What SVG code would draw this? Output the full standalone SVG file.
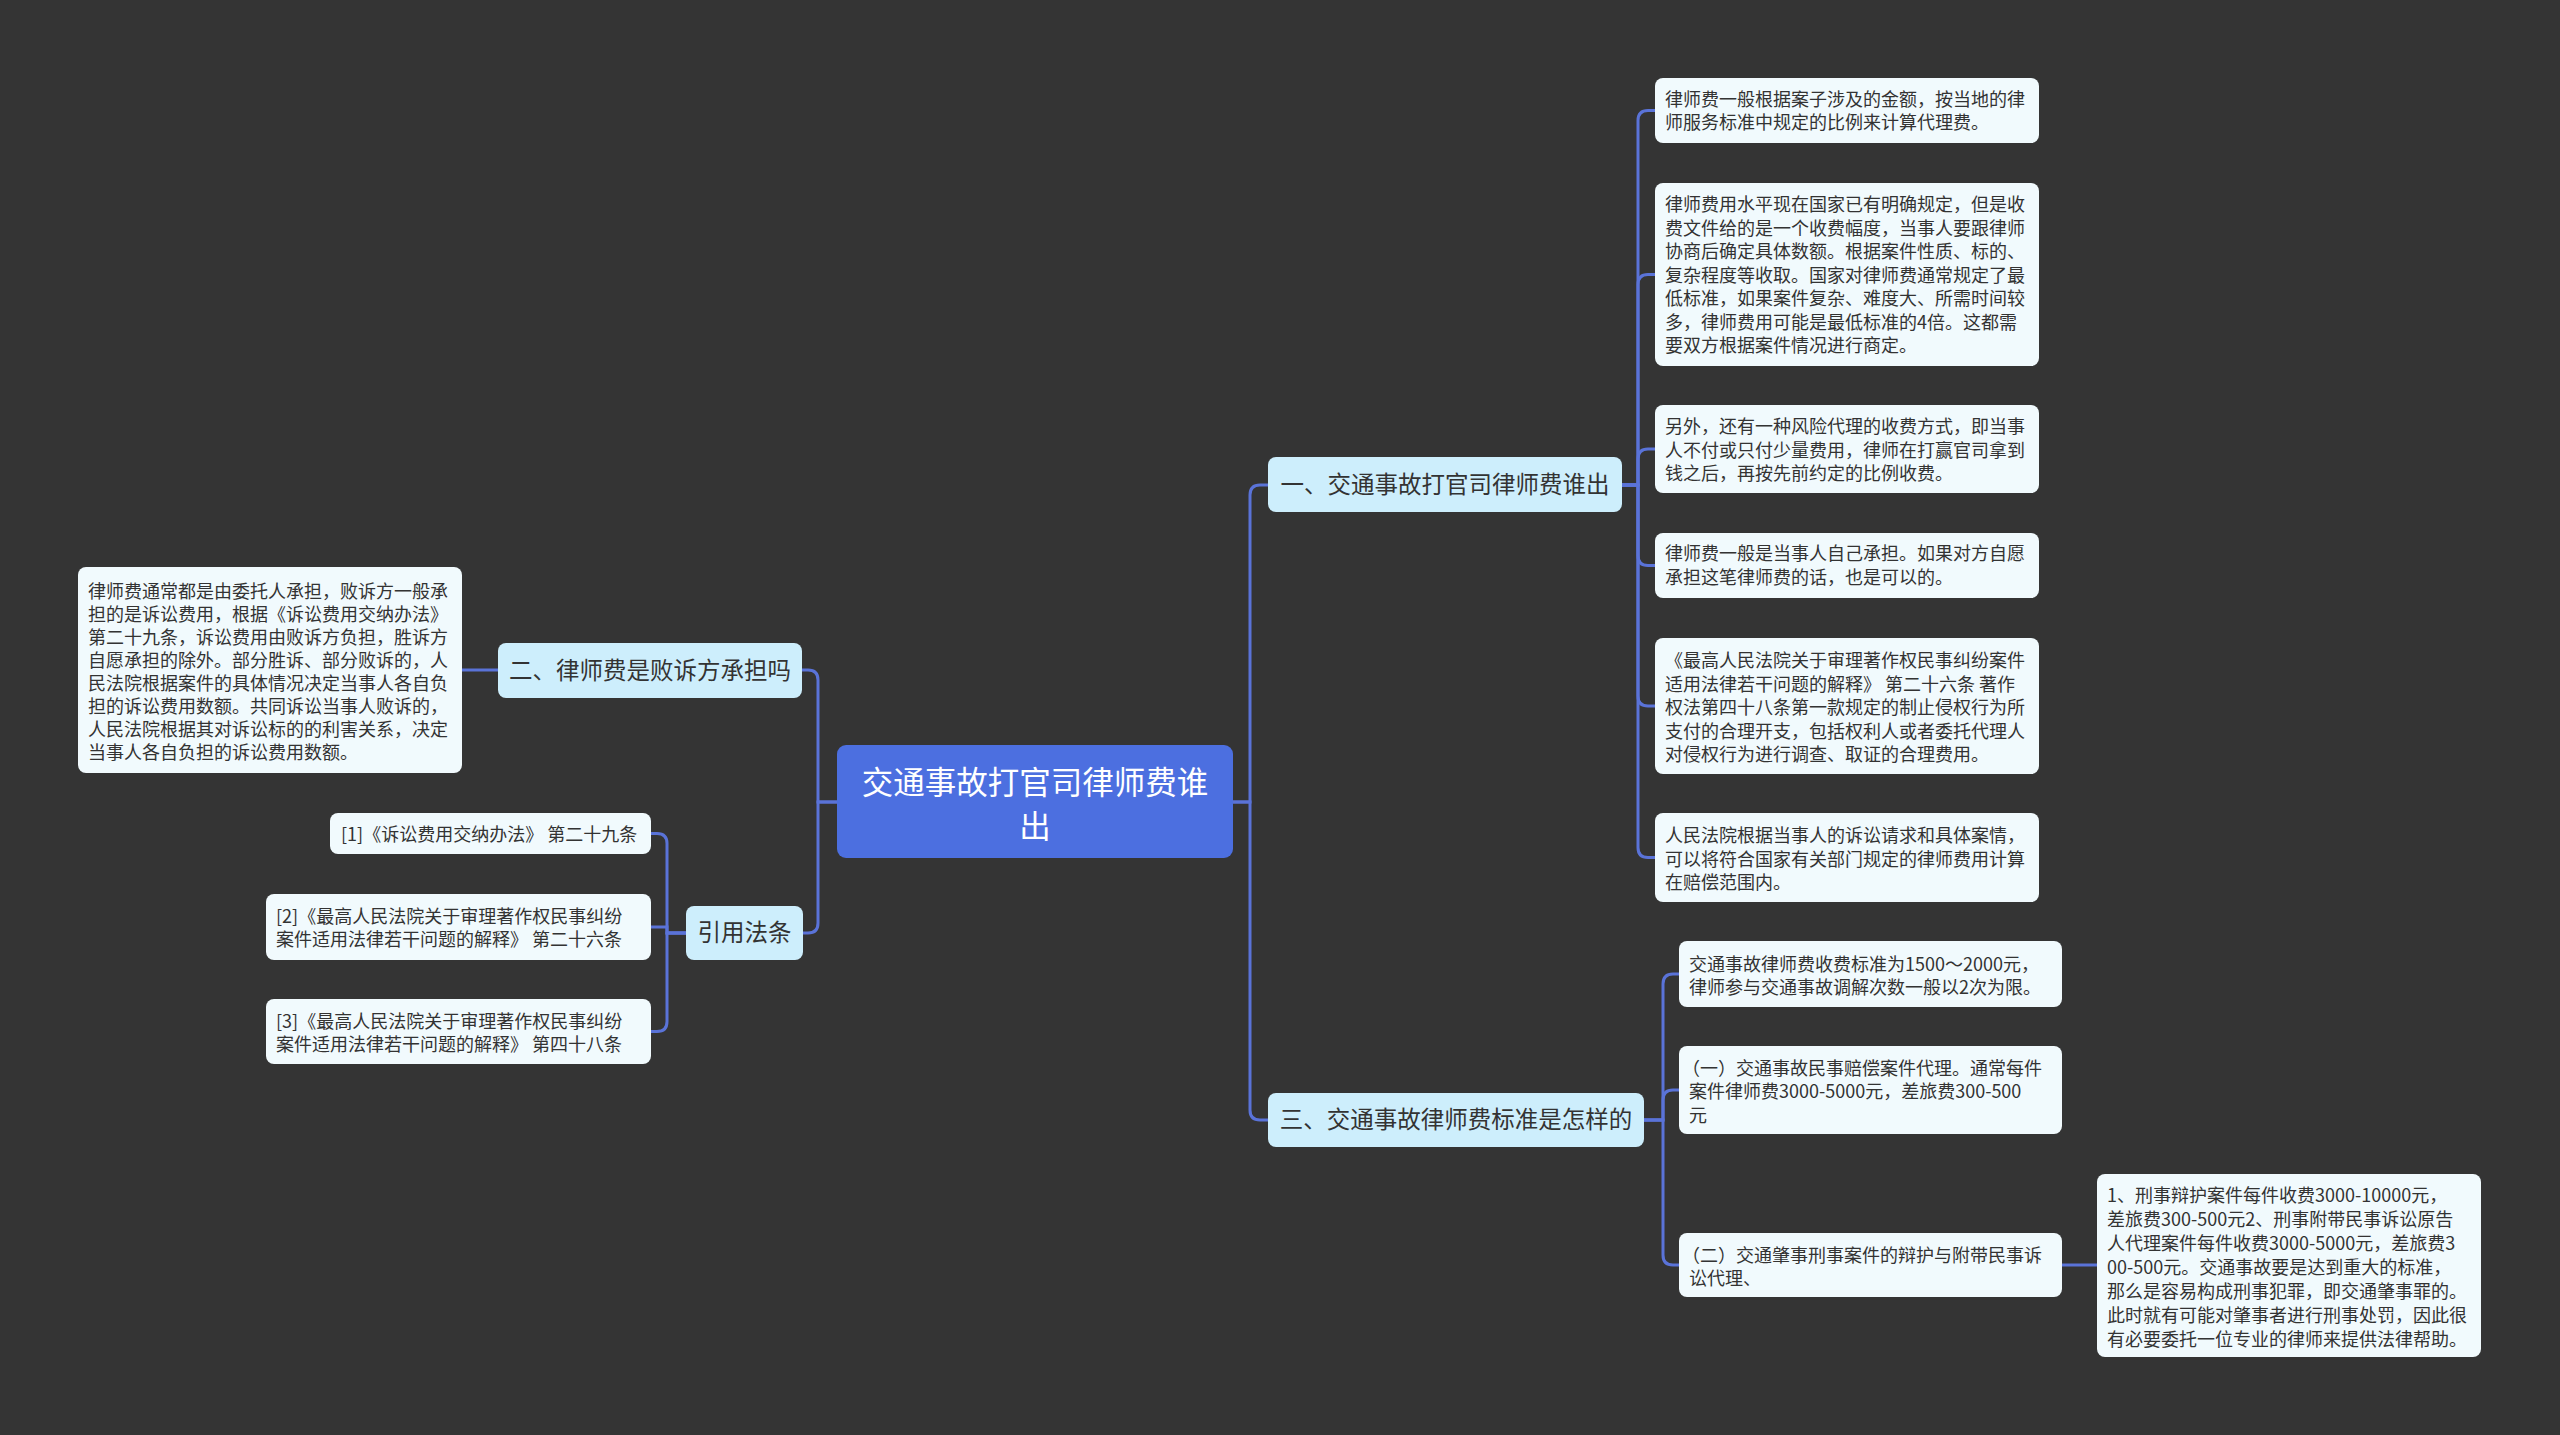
<svg xmlns="http://www.w3.org/2000/svg" width="2560" height="1435" viewBox="0 0 2560 1435">
<style>
text{font-family:"Noto Sans CJK SC","Noto Sans",sans-serif;dominant-baseline:central;fill:#333333;transform:translate(0px,-2px)}
.leaf rect{fill:#F1FAFD;stroke:none}
.leaf text{font-size:18px}
.sub rect{fill:#CDEEFC}
.sub text{font-size:23.5px;text-anchor:middle}
.root rect{fill:#4C6FE0}
.root text{font-size:31.5px;fill:#FFFFFF;text-anchor:middle;transform:translate(0px,-3px)}
.links path{fill:none;stroke:#5A73D8;stroke-width:3}
</style>
<rect x="0" y="0" width="2560" height="1435" fill="#343434"/>
<g class="links">
<path d="M1233,802 H1250 V495 Q1250,485 1260,485 H1268"/>
<path d="M1233,802 H1250 V1110 Q1250,1120 1260,1120 H1268"/>
<path d="M837,802 H818 V680 Q818,670 808,670 H802"/>
<path d="M837,802 H818 V923 Q818,933 808,933 H803"/>
<path d="M1622,485 H1638 V120.5 Q1638,110.5 1648,110.5 H1655"/>
<path d="M1622,485 H1638 V284.5 Q1638,274.5 1648,274.5 H1655"/>
<path d="M1622,485 H1638 V459 Q1638,449 1648,449 H1655"/>
<path d="M1622,485 H1638 V555.5 Q1638,565.5 1648,565.5 H1655"/>
<path d="M1622,485 H1638 V696 Q1638,706 1648,706 H1655"/>
<path d="M1622,485 H1638 V847.5 Q1638,857.5 1648,857.5 H1655"/>
<path d="M1644,1120 H1663 V984 Q1663,974 1673,974 H1679"/>
<path d="M1644,1120 H1663 V1100 Q1663,1090 1673,1090 H1679"/>
<path d="M1644,1120 H1663 V1255 Q1663,1265 1673,1265 H1679"/>
<path d="M2062,1265 H2097"/>
<path d="M498,670 H462"/>
<path d="M686,933 H667 V843.5 Q667,833.5 657,833.5 H651"/>
<path d="M686,933 H667 V927 H651"/>
<path d="M686,933 H667 V1021.5 Q667,1031.5 657,1031.5 H651"/>
</g>
<g id="root" class="root">
<rect x="837" y="745" width="396" height="113" rx="9"/>
<text x="1035" y="783">交通事故打官司律师费谁</text>
<text x="1035" y="827">出</text>
</g>
<g id="b1" class="sub">
<rect x="1268" y="457" width="354" height="55" rx="8"/>
<text x="1445" y="485">一、交通事故打官司律师费谁出</text>
</g>
<g id="b2" class="sub">
<rect x="498" y="643" width="304" height="55" rx="8"/>
<text x="650" y="671">二、律师费是败诉方承担吗</text>
</g>
<g id="b3" class="sub">
<rect x="1268" y="1093" width="376" height="54" rx="8"/>
<text x="1456" y="1120">三、交通事故律师费标准是怎样的</text>
</g>
<g id="b4" class="sub">
<rect x="686" y="906" width="117" height="54" rx="8"/>
<text x="744.5" y="933">引用法条</text>
</g>
<g id="a1" class="leaf">
<rect x="1655" y="78" width="384" height="65" rx="8"/>
<text x="1665" y="100">律师费一般根据案子涉及的金额，按当地的律</text>
<text x="1665" y="123">师服务标准中规定的比例来计算代理费。</text>
</g>
<g id="a2" class="leaf">
<rect x="1655" y="183" width="384" height="183" rx="8"/>
<text x="1665" y="205">律师费用水平现在国家已有明确规定，但是收</text>
<text x="1665" y="228.5">费文件给的是一个收费幅度，当事人要跟律师</text>
<text x="1665" y="252">协商后确定具体数额。根据案件性质、标的、</text>
<text x="1665" y="275.5">复杂程度等收取。国家对律师费通常规定了最</text>
<text x="1665" y="299">低标准，如果案件复杂、难度大、所需时间较</text>
<text x="1665" y="322.5">多，律师费用可能是最低标准的4倍。这都需</text>
<text x="1665" y="346">要双方根据案件情况进行商定。</text>
</g>
<g id="a3" class="leaf">
<rect x="1655" y="405" width="384" height="88" rx="8"/>
<text x="1665" y="427">另外，还有一种风险代理的收费方式，即当事</text>
<text x="1665" y="450.5">人不付或只付少量费用，律师在打赢官司拿到</text>
<text x="1665" y="474">钱之后，再按先前约定的比例收费。</text>
</g>
<g id="a4" class="leaf">
<rect x="1655" y="533" width="384" height="65" rx="8"/>
<text x="1665" y="554">律师费一般是当事人自己承担。如果对方自愿</text>
<text x="1665" y="577.5">承担这笔律师费的话，也是可以的。</text>
</g>
<g id="a5" class="leaf">
<rect x="1655" y="638" width="384" height="136" rx="8"/>
<text x="1665" y="661">《最高人民法院关于审理著作权民事纠纷案件</text>
<text x="1665" y="684.5">适用法律若干问题的解释》 第二十六条 著作</text>
<text x="1665" y="708">权法第四十八条第一款规定的制止侵权行为所</text>
<text x="1665" y="731.5">支付的合理开支，包括权利人或者委托代理人</text>
<text x="1665" y="755">对侵权行为进行调查、取证的合理费用。</text>
</g>
<g id="a6" class="leaf">
<rect x="1655" y="813" width="384" height="89" rx="8"/>
<text x="1665" y="836">人民法院根据当事人的诉讼请求和具体案情，</text>
<text x="1665" y="859.5">可以将符合国家有关部门规定的律师费用计算</text>
<text x="1665" y="883">在赔偿范围内。</text>
</g>
<g id="c1" class="leaf">
<rect x="1679" y="941" width="383" height="66" rx="8"/>
<text x="1689" y="964.5">交通事故律师费收费标准为1500～2000元，</text>
<text x="1689" y="988">律师参与交通事故调解次数一般以2次为限。</text>
</g>
<g id="c2" class="leaf">
<rect x="1679" y="1046" width="383" height="88" rx="8"/>
<text x="1682" y="1068.5">（一）交通事故民事赔偿案件代理。通常每件</text>
<text x="1689" y="1092">案件律师费3000-5000元，差旅费300-500</text>
<text x="1689" y="1115.5">元</text>
</g>
<g id="c3" class="leaf">
<rect x="1679" y="1233" width="383" height="64" rx="8"/>
<text x="1682" y="1256">（二）交通肇事刑事案件的辩护与附带民事诉</text>
<text x="1689" y="1279">讼代理、</text>
</g>
<g id="d1" class="leaf">
<rect x="2097" y="1174" width="384" height="183" rx="8"/>
<text x="2107" y="1196">1、刑事辩护案件每件收费3000-10000元，</text>
<text x="2107" y="1220">差旅费300-500元2、刑事附带民事诉讼原告</text>
<text x="2107" y="1244">人代理案件每件收费3000-5000元，差旅费3</text>
<text x="2107" y="1268">00-500元。交通事故要是达到重大的标准，</text>
<text x="2107" y="1292">那么是容易构成刑事犯罪，即交通肇事罪的。</text>
<text x="2107" y="1316">此时就有可能对肇事者进行刑事处罚，因此很</text>
<text x="2107" y="1340">有必要委托一位专业的律师来提供法律帮助。</text>
</g>
<g id="l1" class="leaf">
<rect x="78" y="567" width="384" height="206" rx="8"/>
<text x="88" y="592">律师费通常都是由委托人承担，败诉方一般承</text>
<text x="88" y="615">担的是诉讼费用，根据《诉讼费用交纳办法》</text>
<text x="88" y="638">第二十九条，诉讼费用由败诉方负担，胜诉方</text>
<text x="88" y="661">自愿承担的除外。部分胜诉、部分败诉的，人</text>
<text x="88" y="684">民法院根据案件的具体情况决定当事人各自负</text>
<text x="88" y="707">担的诉讼费用数额。共同诉讼当事人败诉的，</text>
<text x="88" y="730">人民法院根据其对诉讼标的的利害关系，决定</text>
<text x="88" y="753">当事人各自负担的诉讼费用数额。</text>
</g>
<g id="r1" class="leaf">
<rect x="330" y="813" width="321" height="41" rx="8"/>
<text x="341" y="835">[1]《诉讼费用交纳办法》 第二十九条</text>
</g>
<g id="r2" class="leaf">
<rect x="266" y="894" width="385" height="66" rx="8"/>
<text x="276" y="917">[2]《最高人民法院关于审理著作权民事纠纷</text>
<text x="276" y="940">案件适用法律若干问题的解释》 第二十六条</text>
</g>
<g id="r3" class="leaf">
<rect x="266" y="999" width="385" height="65" rx="8"/>
<text x="276" y="1022">[3]《最高人民法院关于审理著作权民事纠纷</text>
<text x="276" y="1045">案件适用法律若干问题的解释》 第四十八条</text>
</g>
</svg>
